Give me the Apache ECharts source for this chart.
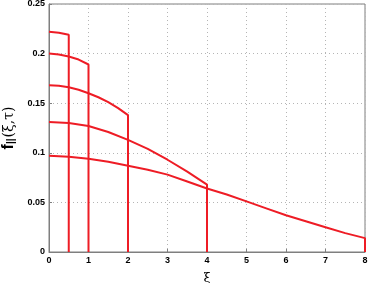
<!DOCTYPE html>
<html>
<head>
<meta charset="utf-8">
<script src="https://cdn.jsdelivr.net/npm/echarts@6/dist/echarts.min.js"></script>
<style>html,body{margin:0;padding:0;background:#fff}#c{width:368px;height:283px}</style>
</head>
<body>
<div id="c"></div>
<script>
var xTicks = [0,1,2,3,4,5,6,7,8];
var yTicks = [0,0.05,0.1,0.15,0.2,0.25];
var curve1 = [[0,0.222],[0.25,0.221],[0.5,0.219],[0.5,0]];
var curve2 = [[0,0.200],[0.25,0.199],[0.5,0.197],[0.75,0.194],[1,0.189],[1,0]];
var curve3 = [[0,0.168],[0.25,0.1675],[0.5,0.166],[0.75,0.1635],[1,0.160],[1.25,0.156],[1.5,0.151],[1.75,0.145],[2,0.138],[2,0]];
var curve4 = [[0,0.131],[0.5,0.130],[1,0.127],[1.5,0.121],[2,0.113],[2.5,0.104],[3,0.093],[3.5,0.081],[4,0.068],[4,0]];
var curve5 = [[0,0.097],[0.5,0.096],[1,0.094],[1.5,0.091],[2,0.087],[2.5,0.083],[3,0.078],[3.5,0.071],[4,0.064],[4.5,0.058],[5,0.051],[5.5,0.044],[6,0.037],[6.5,0.031],[7,0.025],[7.5,0.019],[8,0.014],[8,0]];
var curves = [curve1, curve2, curve3, curve4, curve5];

var chart = echarts.init(document.getElementById('c'));
var lbl = {color:'#000', fontWeight:'bold', fontSize:9, fontFamily:'Liberation Sans'};
chart.setOption({
  animation:false,
  grid:{left:49,right:3,top:4,bottom:31,outerBoundsMode:'none',containLabel:false,show:true,borderColor:'#7f7f7f',borderWidth:1,backgroundColor:'#fff'},
  xAxis:{type:'value',min:0,max:8,interval:1,
    axisLine:{lineStyle:{color:'#7f7f7f'}},
    axisTick:{inside:true,length:3,lineStyle:{color:'#7f7f7f'}},
    axisLabel:Object.assign({margin:4,formatter:function(v){return xTicks.indexOf(v)>=0?String(v):'';}},lbl),
    splitLine:{show:true,lineStyle:{color:'#b5b5b5',type:[1,3],width:1}},
    name:'ξ',nameLocation:'middle',nameGap:20,
    nameTextStyle:{color:'#000',fontSize:13,fontFamily:'DejaVu Serif'}},
  yAxis:{type:'value',min:0,max:0.25,interval:0.05,
    axisLine:{show:true,lineStyle:{color:'#7f7f7f'}},
    axisTick:{show:true,inside:true,length:3,lineStyle:{color:'#7f7f7f'}},
    axisLabel:Object.assign({margin:4,formatter:function(v){var r=Math.round(v*100)/100;return String(r);}},lbl),
    splitLine:{show:true,lineStyle:{color:'#b5b5b5',type:[1,3],width:1}},
    name:'{f|f}{s|||}{p|(ξ,τ)}',nameLocation:'middle',nameGap:32,nameRotate:90,
    nameTextStyle:{rich:{
      f:{fontSize:16,fontWeight:'bold',color:'#000',fontFamily:'Liberation Sans',verticalAlign:'bottom',lineHeight:18},
      s:{fontSize:10,fontWeight:'bold',color:'#000',fontFamily:'Liberation Sans',verticalAlign:'bottom',padding:[0,1,0,0],lineHeight:18},
      p:{fontSize:14,color:'#000',fontFamily:'DejaVu Serif',verticalAlign:'bottom',lineHeight:18}
    }}},
  series:curves.map(function(d){return {type:'line',data:d,showSymbol:false,
    lineStyle:{color:'#ee1c25',width:2},itemStyle:{color:'#ee1c25'}};})
});
</script>
</body>
</html>
